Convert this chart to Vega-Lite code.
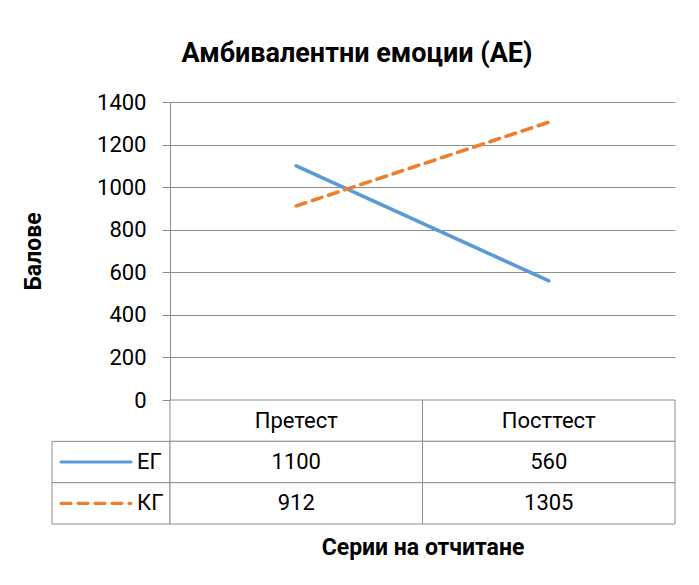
{
  "$schema": "https://vega.github.io/schema/vega-lite/v6.json",
  "background": "white",
  "padding": {"left": 22, "top": 40, "right": 5, "bottom": 5},
  "title": {"text": "Амбивалентни емоции (АЕ)", "font": "Roboto", "fontSize": 27, "fontWeight": "bold", "color": "black", "anchor": "middle", "offset": 23, "dx": 8},
  "datasets": {
    "scores": [
      {"group": "ЕГ", "test": "Претест", "value": 1100},
      {"group": "ЕГ", "test": "Посттест", "value": 560},
      {"group": "КГ", "test": "Претест", "value": 912},
      {"group": "КГ", "test": "Посттест", "value": 1305}
    ],
    "header": [{"test": "Претест"}, {"test": "Посттест"}],
    "groups": [{"group": "ЕГ"}, {"group": "КГ"}]
  },
  "config": {
    "view": {"stroke": null},
    "font": "Roboto",
    "text": {"font": "Roboto", "fontSize": 22, "color": "black"}
  },
  "columns": 2,
  "spacing": 0,
  "bounds": "flush",
  "align": "each",
  "concat": [
    {
      "width": 118,
      "height": 298,
      "data": {"values": []},
      "mark": "point"
    },
    {
      "width": 505,
      "height": 298,
      "data": {"name": "scores"},
      "mark": {"type": "line", "strokeWidth": 3.6, "strokeCap": "round"},
      "encoding": {
        "x": {"field": "test", "type": "nominal", "sort": ["Претест", "Посттест"], "scale": {"type": "point", "padding": 0.5}, "axis": null},
        "y": {
          "field": "value", "type": "quantitative",
          "scale": {"domain": [0, 1400], "nice": false},
          "axis": {
            "values": [0, 200, 400, 600, 800, 1000, 1200, 1400], "format": "d",
            "title": "Балове", "titleFont": "Roboto", "titleFontSize": 23, "titleFontWeight": "bold", "titleColor": "black", "titlePadding": 51,
            "labelFont": "Roboto", "labelFontSize": 22, "labelColor": "black", "labelPadding": 16,
            "tickSize": 8, "tickColor": "#8c8c8c", "domainColor": "#8c8c8c", "gridColor": "#8c8c8c", "gridOpacity": 1, "grid": true
          }
        },
        "color": {"field": "group", "type": "nominal", "scale": {"domain": ["ЕГ", "КГ"], "range": ["#5B9BD5", "#ED7D31"]}, "legend": null},
        "strokeDash": {"field": "group", "type": "nominal", "scale": {"domain": ["ЕГ", "КГ"], "range": [[1, 0], [10, 7]]}, "legend": null}
      }
    },
    {
      "width": 118,
      "height": 124,
      "data": {"name": "groups"},
      "encoding": {
        "y": {"field": "group", "type": "nominal", "scale": {"domain": ["header", "ЕГ", "КГ"], "paddingInner": 0, "paddingOuter": 0}, "axis": null}
      },
      "layer": [
        {"mark": {"type": "rect", "fill": "white", "stroke": "#8c8c8c", "strokeWidth": 1}},
        {
          "mark": {"type": "point", "shape": "stroke", "size": 4900, "strokeWidth": 3.2, "strokeCap": "round", "filled": false, "opacity": 1, "xOffset": -15},
          "encoding": {
            "color": {"field": "group", "type": "nominal", "scale": {"domain": ["ЕГ", "КГ"], "range": ["#5B9BD5", "#ED7D31"]}, "legend": null},
            "strokeDash": {"field": "group", "type": "nominal", "scale": {"domain": ["ЕГ", "КГ"], "range": [[1, 0], [10, 7]]}, "legend": null}
          }
        },
        {
          "mark": {"type": "text", "align": "left", "dx": 26},
          "encoding": {"text": {"field": "group"}}
        }
      ]
    },
    {
      "width": 505,
      "height": 124,
      "layer": [
        {
          "data": {"name": "header"},
          "mark": {"type": "rect", "fill": "white", "stroke": "#8c8c8c", "strokeWidth": 1},
          "encoding": {
            "x": {"field": "test", "type": "nominal", "sort": ["Претест", "Посттест"], "scale": {"paddingInner": 0, "paddingOuter": 0},
              "axis": {"labels": false, "ticks": false, "domain": false, "title": "Серии на отчитане", "titleFont": "Roboto", "titleFontSize": 23, "titleFontWeight": "bold", "titleColor": "black", "titlePadding": 12}},
            "y": {"datum": "header", "type": "nominal", "scale": {"domain": ["header", "ЕГ", "КГ"], "paddingInner": 0, "paddingOuter": 0}, "axis": null}
          }
        },
        {
          "data": {"name": "header"},
          "mark": {"type": "text"},
          "encoding": {
            "x": {"field": "test", "type": "nominal", "sort": ["Претест", "Посттест"]},
            "y": {"datum": "header", "type": "nominal"},
            "text": {"field": "test"}
          }
        },
        {
          "data": {"name": "scores"},
          "mark": {"type": "rect", "fill": "white", "stroke": "#8c8c8c", "strokeWidth": 1},
          "encoding": {
            "x": {"field": "test", "type": "nominal", "sort": ["Претест", "Посттест"]},
            "y": {"field": "group", "type": "nominal"}
          }
        },
        {
          "data": {"name": "scores"},
          "mark": {"type": "text"},
          "encoding": {
            "x": {"field": "test", "type": "nominal", "sort": ["Претест", "Посттест"]},
            "y": {"field": "group", "type": "nominal"},
            "text": {"field": "value", "type": "quantitative", "format": "d"}
          }
        }
      ]
    }
  ]
}
